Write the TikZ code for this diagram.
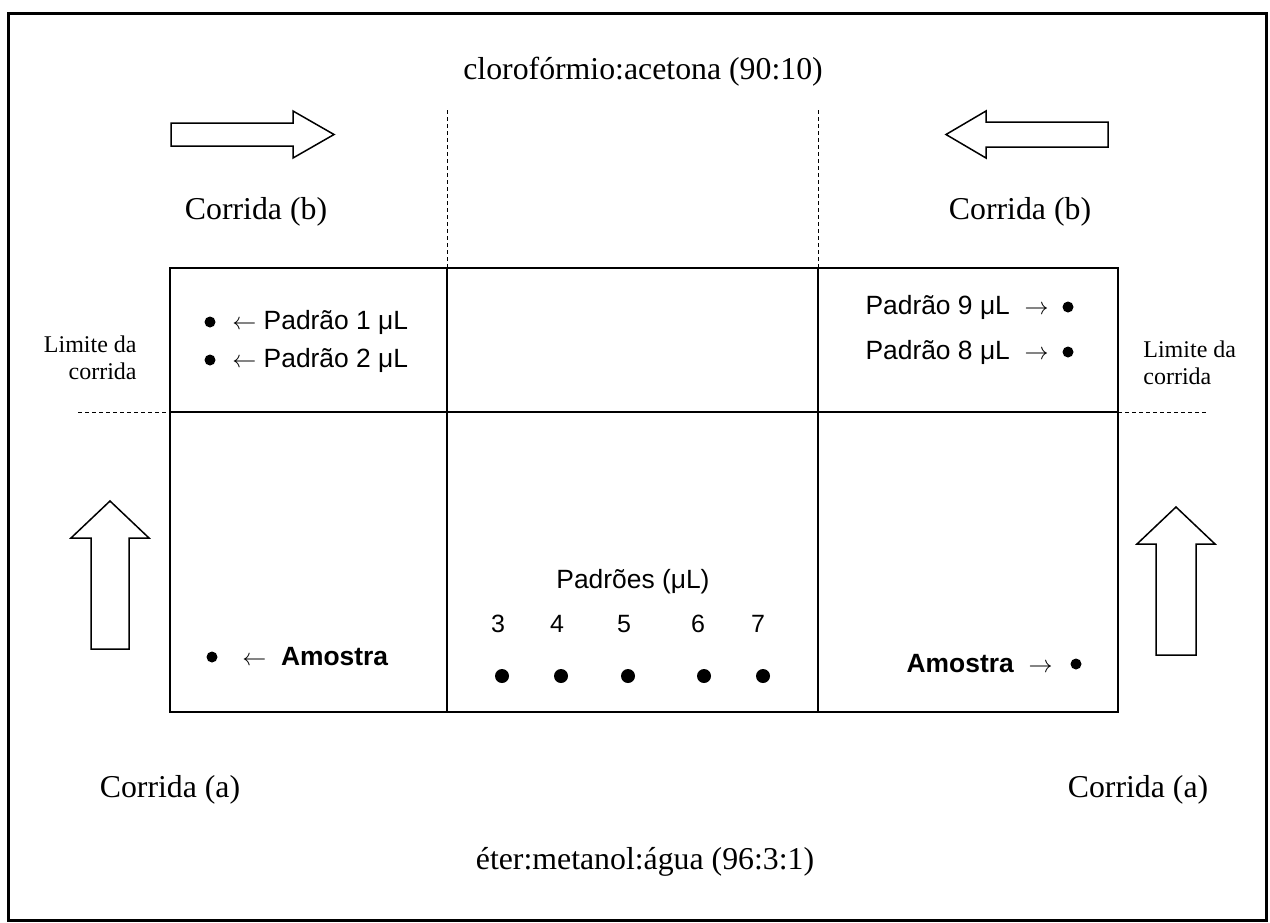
\documentclass[tikz,border=0pt]{standalone}
\usepackage{fontspec}
\setmainfont{Liberation Serif}
\setsansfont{Liberation Sans}
\usetikzlibrary{positioning}

\tikzset{
	rotulo/.style={font=\fontsize{15.9}{19}\selectfont, inner sep=0pt},
	limite/.style={font=\fontsize{12}{13.5}\selectfont, inner sep=0pt},
	padrao/.style={font=\sffamily\fontsize{13.2}{15}\selectfont, inner sep=0pt},
	numero/.style={font=\sffamily\fontsize{12.5}{14}\selectfont, inner sep=0pt},
	ponto/.style={circle, fill, inner sep=0pt, minimum size=5.5pt},
	pontog/.style={circle, fill, inner sep=0pt, minimum size=7pt},
	seta/.style={line width=0.75pt, line join=miter},
	linha/.style={line width=0.75pt},
	tracejado/.style={line width=0.5pt, dash pattern=on 2pt off 1.5pt}
}

\begin{document}
\begin{tikzpicture}[x=0.5pt, y=-0.5pt]
	\useasboundingbox (0,0) rectangle (1270,922);
	% Moldura
		\draw[line width=1.5pt] (8,13) rectangle (1266,920);
	% Placa
		\coordinate (no) at (170,268);
		\coordinate (se) at (1118,712);
		\coordinate (v1) at (447,268);
		\coordinate (v2) at (818,268);
		\draw[linha] (no) rectangle (se);
		\draw[linha] (v1) -- (v1 |- se);
		\draw[linha] (v2) -- (v2 |- se);
		\draw[linha] (170,412) -- (1118,412);
	% Linhas tracejadas
		\draw[tracejado] (447,110) -- (v1);
		\draw[tracejado] (818,110) -- (v2);
		\draw[tracejado] (78,412) -- (170,412);
		\draw[tracejado] (1118,412) -- (1207,412);
	% Setas largas
		\draw[seta] (171,123) -- (293,123) -- (293,111) -- (334,134.5) -- (293,158) -- (293,146) -- (171,146) -- cycle;
		\draw[seta] (1108,122) -- (986,122) -- (986,111) -- (946,134.5) -- (986,158) -- (986,147) -- (1108,147) -- cycle;
		\draw[seta] (91,649) -- (91,538) -- (71,538) -- (110,501) -- (149,538) -- (129,538) -- (129,649) -- cycle;
		\draw[seta] (1156,655) -- (1156,544) -- (1137,544) -- (1176,507) -- (1215,544) -- (1196,544) -- (1196,655) -- cycle;
	% Textos
		\node[rotulo] (solvb) at (643,72) {clorofórmio:acetona (90:10)};
		\node[rotulo] (solva) at (645,862) {éter:metanol:água (96:3:1)};
		\node[rotulo] (cb1) at (256,212) {Corrida (b)};
		\node[rotulo] (cb2) at (1020,212) {Corrida (b)};
		\node[rotulo] (ca1) at (170,790) {Corrida (a)};
		\node[rotulo] (ca2) at (1138,790) {Corrida (a)};
		\node[limite, align=right, anchor=east] (lim1) at (137,358) {Limite da\\corrida};
		\node[limite, align=left, anchor=west] (lim2) at (1143,363) {Limite da\\corrida};
	% Pontos
		\node[ponto] (p1) at (210,322) {};
		\node[ponto] (p2) at (210,360) {};
		\node[ponto] (p9) at (1068,307) {};
		\node[ponto] (p8) at (1068,352) {};
		\node[ponto] (am1) at (212,657) {};
		\node[ponto] (am2) at (1076,664) {};
		\node[padrao, anchor=west] (t1) at (232,322) {$\leftarrow$\ Padrão 1 μL};
		\node[padrao, anchor=west] (t2) at (232,360) {$\leftarrow$\ Padrão 2 μL};
		\node[padrao, anchor=east] (t9) at (1049,307) {Padrão 9 μL\ \ $\rightarrow$};
		\node[padrao, anchor=east] (t8) at (1049,352) {Padrão 8 μL\ \ $\rightarrow$};
		\node[padrao, anchor=west] (ta1) at (242,657) {$\leftarrow$\ \ \textbf{Amostra}};
		\node[padrao, anchor=east] (ta2) at (1053,664) {\textbf{Amostra}\ \ $\rightarrow$};
		\node[padrao] (pad) at (633,582) {Padrões (μL)};
		\foreach \n/\xt/\xp in {3/498/502, 4/557/561, 5/624/628, 6/698/704, 7/758/763} {
			\node[numero] (n\n) at (\xt,624) {\n};
			\node[pontog] (d\n) at (\xp,676) {};
		}
\end{tikzpicture}
\end{document}
